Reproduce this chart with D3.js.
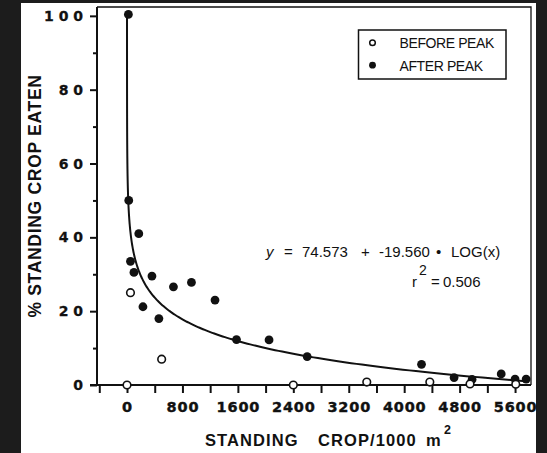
<!DOCTYPE html>
<html>
<head>
<meta charset="utf-8">
<script src="https://cdn.jsdelivr.net/npm/d3@7"></script>
<style>
  body { margin: 0; background: #1c1c1c; }
  svg { display: block; }
</style>
</head>
<body>
<svg id="chart" width="547" height="453"></svg>
<script>
// before peak (open circles)
const beforeX = [0, 50, 500, 2400, 3460, 4370, 4950, 5610];
const beforeY = [0, 25, 7, 0, 0.8, 0.8, 0.3, 0.2];

// after peak (filled circles)
const afterX = [20, 25, 50, 100, 170, 230, 360, 460, 670, 930, 1270, 1580, 2050, 2600, 4250, 4720, 4980, 5400, 5600, 5760];
const afterY = [100.4, 50, 33.5, 30.5, 41, 21.2, 29.5, 18, 26.6, 27.8, 23, 12.3, 12.2, 7.7, 5.6, 2, 1.5, 3, 1.6, 1.6];

// regression y = a + b * log10(x)
const fitA = 74.573;
const fitB = -19.560;
const rSquared = 0.506;

const xTicks = d3.range(-400, 5601, 400);
const xLabels = [0, 800, 1600, 2400, 3200, 4000, 4800, 5600];
const yTicks = d3.range(0, 101, 10);
const yLabels = [0, 20, 40, 60, 80, 100];
const legendItems = ["BEFORE PEAK", "AFTER PEAK"];

const svg = d3.select("#chart");

const plotLeft = 97, plotRight = 531, plotTop = 7, plotBottom = 385;

//page background and white paper
svg.append("rect").attr("width", 547).attr("height", 453).attr("fill", "#1c1c1c");
svg.append("rect").attr("x", 21).attr("y", 3).attr("width", 515).attr("height", 450).attr("fill", "#fff");

const x = d3.scaleLinear()
    .domain([-433, 5830])
    .range([plotLeft, plotRight]);

const y = d3.scaleLinear()
    .domain([0, 102.4])
    .range([plotBottom, plotTop]);

//thin frame on top and right
svg.append("path")
    .attr("d", `M${plotLeft},${plotTop}H${plotRight}V${plotBottom}`)
    .attr("fill", "none")
    .attr("stroke", "#111")
    .attr("stroke-width", 1.3);

//x-axis
const gx = svg.append("g")
    .attr("transform", `translate(0, ${plotBottom})`)
    .call(d3.axisBottom(x)
        .tickValues(xTicks)
        .tickSize(8)
        .tickPadding(9)
        .tickFormat(d => xLabels.includes(d) ? d : ""));
gx.select(".domain").remove();
gx.append("line")
    .attr("x1", plotLeft - 7).attr("x2", plotRight)
    .attr("stroke", "#111").attr("stroke-width", 2);
gx.selectAll(".tick line").attr("stroke", "#111").attr("stroke-width", 2);
gx.selectAll(".tick text")
    .attr("fill", "#111")
    .style("font-family", "DejaVu Sans")
    .style("font-weight", "bold")
    .style("font-size", "14.5px")
    .style("letter-spacing", "0.8px")
    .style("stroke", "#111")
    .style("stroke-width", "0.4px");

//y-axis
const gy = svg.append("g")
    .attr("transform", `translate(${plotLeft}, 0)`)
    .call(d3.axisLeft(y)
        .tickValues(yTicks)
        .tickSize(0)
        .tickPadding(14)
        .tickFormat(d => yLabels.includes(d) ? String(d).split("").join(" ") : ""));
gy.select(".domain").remove();
gy.append("line")
    .attr("y1", plotTop).attr("y2", plotBottom)
    .attr("stroke", "#111").attr("stroke-width", 2);
gy.selectAll(".tick line")
    .attr("x2", d => yLabels.includes(d) ? -7 : -4)
    .attr("stroke", "#111").attr("stroke-width", 2);
gy.selectAll(".tick text")
    .attr("fill", "#111")
    .style("font-family", "DejaVu Sans")
    .style("font-weight", "bold")
    .style("font-size", "14px")
    .style("stroke", "#111")
    .style("stroke-width", "0.3px");

//fitted curve
const curveX = d3.range(-1.3, Math.log10(5830), 0.01).map(v => Math.pow(10, v));
const line = d3.line()
    .x(d => x(d))
    .y(d => y(fitA + fitB * Math.log10(d)));
svg.append("path")
    .datum(curveX)
    .attr("d", line)
    .attr("fill", "none")
    .attr("stroke", "#111")
    .attr("stroke-width", 2);

//points
svg.selectAll("circle.after")
    .data(afterX)
    .enter()
    .append("circle")
    .attr("class", "after")
    .attr("cx", d => x(d))
    .attr("cy", (d, i) => y(afterY[i]))
    .attr("r", 4.4)
    .attr("fill", "#111");

svg.selectAll("circle.before")
    .data(beforeX)
    .enter()
    .append("circle")
    .attr("class", "before")
    .attr("cx", d => x(d))
    .attr("cy", (d, i) => y(beforeY[i]))
    .attr("r", 3.8)
    .attr("fill", "#fff")
    .attr("stroke", "#111")
    .attr("stroke-width", 1.6);

//legend
svg.append("rect")
    .attr("x", 358.5).attr("y", 30)
    .attr("width", 147.5).attr("height", 49)
    .attr("fill", "#fff")
    .attr("stroke", "#111")
    .attr("stroke-width", 1.5);

const legend = svg.selectAll(".legend")
    .data(legendItems)
    .enter()
    .append("g")
    .attr("class", "legend")
    .attr("transform", (d, i) => `translate(372.5, ${42.7 + i * 22.5})`);

legend.append("circle")
    .attr("r", (d, i) => i === 0 ? 2.8 : 3.4)
    .attr("fill", (d, i) => i === 0 ? "#fff" : "#111")
    .attr("stroke", "#111")
    .attr("stroke-width", (d, i) => i === 0 ? 1.5 : 0);

legend.append("text")
    .attr("x", 27)
    .attr("y", 5.5)
    .style("font-family", "Liberation Sans")
    .style("font-size", "14px")
    .style("letter-spacing", "-0.4px")
    .attr("fill", "#111")
    .text(d => d);

//equation
const eq = svg.append("text")
    .attr("y", 257)
    .style("font-family", "Liberation Sans")
    .style("font-size", "15px")
    .attr("fill", "#111");
eq.append("tspan").attr("x", 266).style("font-style", "italic").text("y");
eq.append("tspan").attr("x", 284).text("=");
eq.append("tspan").attr("x", 302).text(fitA.toFixed(3));
eq.append("tspan").attr("x", 361).text("+");
eq.append("tspan").attr("x", 379).text(fitB.toFixed(3));
eq.append("tspan").attr("x", 436).text("•");
eq.append("tspan").attr("x", 451).text("LOG(x)");

const r2 = svg.append("text")
    .style("font-family", "Liberation Sans")
    .style("font-size", "15px")
    .attr("fill", "#111");
r2.append("tspan").attr("x", 412).attr("y", 287).text("r");
r2.append("tspan").attr("x", 419).attr("y", 275).style("font-size", "14px").text("2");
r2.append("tspan").attr("x", 431).attr("y", 287).text("=");
r2.append("tspan").attr("x", 443).attr("y", 287).text(rSquared.toFixed(3));

//axis titles
const xt = svg.append("text")
    .attr("y", 446)
    .style("font-family", "Liberation Sans")
    .style("font-weight", "bold")
    .style("font-size", "16.5px")
    .style("letter-spacing", "1.1px")
    .attr("fill", "#111");
xt.append("tspan").attr("x", 205).text("STANDING");
xt.append("tspan").attr("x", 318).text("CROP/1000");
xt.append("tspan").attr("x", 426).style("letter-spacing", "0px").text("m");
xt.append("tspan").attr("x", 444).attr("y", 434).style("font-size", "12.5px").text("2");

svg.append("text")
    .attr("transform", "translate(41, 196) rotate(-90)")
    .attr("text-anchor", "middle")
    .style("font-family", "Liberation Sans")
    .style("font-weight", "bold")
    .style("font-size", "17.5px")
    .style("letter-spacing", "0.7px")
    .attr("fill", "#111")
    .text("% STANDING CROP EATEN");
</script>
</body>
</html>
